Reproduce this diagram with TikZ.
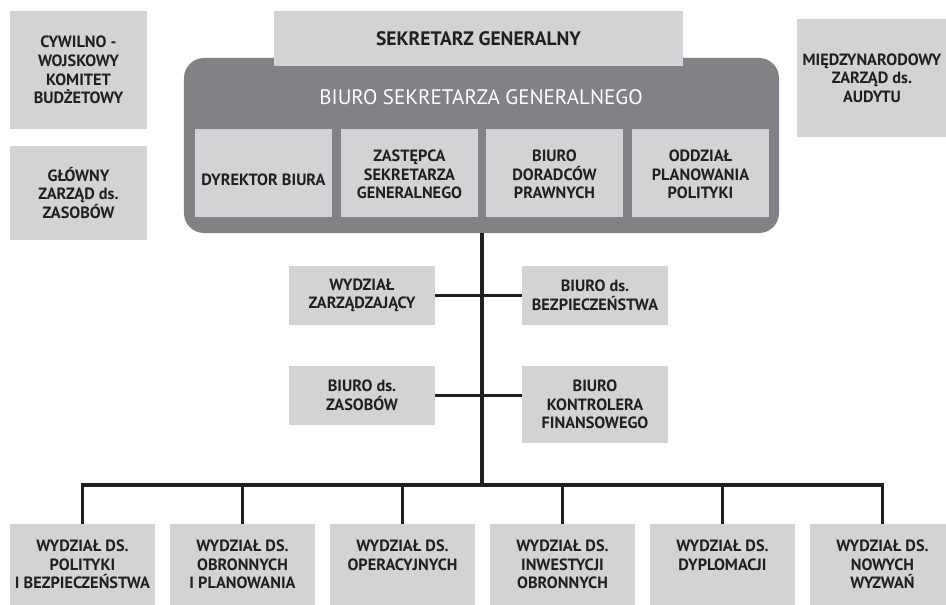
\documentclass[tikz,border=0pt]{standalone}
\usepackage{fontspec}
\setmainfont{PT Sans}
\definecolor{lightg}{HTML}{D1D3D4}
\definecolor{darkg}{HTML}{808285}
\definecolor{txt}{HTML}{231F20}
\begin{document}
\begin{tikzpicture}[x=1bp,y=-1bp,
  box/.style={fill=lightg, text=txt, align=center, inner sep=0pt,
    font=\bfseries\fontsize{16.3bp}{18.6bp}\selectfont},
  conn/.style={draw=txt, line width=3.8bp},
  ]
\useasboundingbox (0,0) rectangle (946,605);
% left boxes
\node[box, minimum width=137bp, minimum height=118bp] (cyw) at (78.5,70) {CYWILNO -\\WOJSKOWY\\KOMITET\\BUDŻETOWY};
\node[box, minimum width=137bp, minimum height=94bp] (glo) at (78.5,193) {GŁÓWNY\\ZARZĄD ds.\\ZASOBÓW};
% right box
\node[box, minimum width=150bp, minimum height=118bp] (mie) at (872,78) {MIĘDZYNARODOWY\\ZARZĄD ds.\\AUDYTU};
% office
\node[fill=darkg, rounded corners=20bp, minimum width=595bp, minimum height=175bp, inner sep=0pt] (office) at (481.5,145.5) {};
\node[box, minimum width=409bp, minimum height=55bp, font=\bfseries\fontsize{19.5bp}{22bp}\selectfont] (sek) at (478.5,38.5) {SEKRETARZ GENERALNY};
\node[text=white, inner sep=0pt, font=\fontsize{21bp}{24bp}\selectfont] (otitle) at (481,97) {BIURO SEKRETARZA GENERALNEGO};
\node[box, minimum width=137bp, minimum height=88bp] (i1) at (263.5,173) {\raisebox{-12.5bp}[0pt][0pt]{DYREKTOR BIURA}};
\node[box, minimum width=137bp, minimum height=88bp] (i2) at (409.5,173) {\\[-4bp]ZASTĘPCA\\SEKRETARZA\\GENERALNEGO};
\node[box, minimum width=137bp, minimum height=88bp] (i3) at (554.5,173) {\\[-4bp]BIURO\\DORADCÓW\\PRAWNYCH};
\node[box, minimum width=137bp, minimum height=88bp] (i4) at (700.5,173) {\\[-4bp]ODDZIAŁ\\PLANOWANIA\\POLITYKI};
% middle boxes
\node[box, minimum width=146bp, minimum height=59bp] (wz) at (362,295.5) {WYDZIAŁ\\ZARZĄDZAJĄCY};
\node[box, minimum width=146bp, minimum height=59bp] (bb) at (595,295.5) {BIURO ds.\\BEZPIECZEŃSTWA};
\node[box, minimum width=146bp, minimum height=59bp] (bz) at (362,395.5) {BIURO ds.\\ZASOBÓW};
\node[box, minimum width=146bp, minimum height=77bp] (bk) at (595,404.5) {BIURO\\KONTROLERA\\FINANSOWEGO};
% bottom boxes
\node[box, minimum width=145bp, minimum height=81bp] (b1) at (82.5,564.5) {WYDZIAŁ DS.\\POLITYKI\\I BEZPIECZEŃSTWA};
\node[box, minimum width=145bp, minimum height=81bp] (b2) at (242.5,564.5) {WYDZIAŁ DS.\\OBRONNYCH\\I PLANOWANIA};
\node[box, minimum width=145bp, minimum height=81bp] (b3) at (402.5,564.5) {WYDZIAŁ DS.\\OPERACYJNYCH\\\mbox{}};
\node[box, minimum width=145bp, minimum height=81bp] (b4) at (562.5,564.5) {WYDZIAŁ DS.\\INWESTYCJI\\OBRONNYCH};
\node[box, minimum width=145bp, minimum height=81bp] (b5) at (722.5,564.5) {WYDZIAŁ DS.\\DYPLOMACJI\\\mbox{}};
\node[box, minimum width=145bp, minimum height=81bp] (b6) at (882.5,564.5) {WYDZIAŁ DS.\\NOWYCH\\WYZWAŃ};
% connectors
\coordinate (bus) at (482,485);
\draw[conn] (office.south -| bus) -- (bus);
\draw[conn] (wz.east) -- (bb.west);
\draw[conn] (bz.east) -- (bz.east -| bk.west);
\draw[conn] (b1.north) |- (b6.north |- bus) -- (b6.north);
\foreach \n in {b2,b3,b4,b5} \draw[conn] (\n.north) -- (\n.north |- bus);
\end{tikzpicture}
\end{document}
